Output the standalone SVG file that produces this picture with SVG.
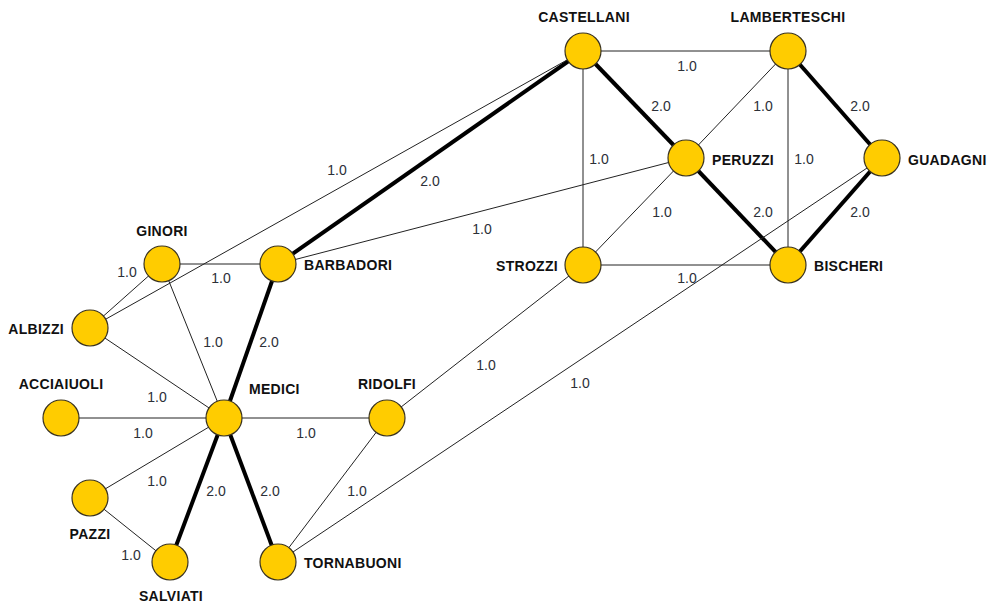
<svg xmlns="http://www.w3.org/2000/svg" width="989" height="608" viewBox="0 0 989 608">
  <style>
    .e1 { stroke: #222; stroke-width: 1; fill: none; }
    .e2 { stroke: #000; stroke-width: 4; fill: none; }
    .node circle { fill: #FFCC00; stroke: #3a3320; stroke-width: 1.2; }
    .name { font-family: "Liberation Sans", Arial, sans-serif; font-size: 14px; font-weight: bold; fill: #111; letter-spacing: 0.3px; }
    .w { font-family: "Liberation Sans", Arial, sans-serif; font-size: 14px; fill: #2c3038; text-anchor: middle; }
  </style>
  <rect width="989" height="608" fill="#fff"/>

  <!-- connectors: thin = weight 1.0, bold = weight 2.0 -->
  <g id="edges">
    <line class="e1" x1="583" y1="51" x2="788" y2="51"/>
    <line class="e2" x1="583" y1="51" x2="686" y2="158"/>
    <line class="e1" x1="583" y1="51" x2="583" y2="265"/>
    <line class="e2" x1="583" y1="51" x2="278" y2="264"/>
    <line class="e1" x1="583" y1="51" x2="90" y2="328"/>
    <line class="e1" x1="788" y1="51" x2="686" y2="158"/>
    <line class="e2" x1="788" y1="51" x2="882" y2="158"/>
    <line class="e1" x1="788" y1="51" x2="788" y2="265"/>
    <line class="e1" x1="686" y1="158" x2="583" y2="265"/>
    <line class="e2" x1="686" y1="158" x2="788" y2="265"/>
    <line class="e1" x1="686" y1="158" x2="278" y2="264"/>
    <line class="e2" x1="882" y1="158" x2="788" y2="265"/>
    <line class="e1" x1="882" y1="158" x2="278" y2="562"/>
    <line class="e1" x1="583" y1="265" x2="788" y2="265"/>
    <line class="e1" x1="583" y1="265" x2="387" y2="418"/>
    <line class="e1" x1="162" y1="264" x2="90" y2="328"/>
    <line class="e1" x1="162" y1="264" x2="278" y2="264"/>
    <line class="e1" x1="162" y1="264" x2="224" y2="418"/>
    <line class="e2" x1="278" y1="264" x2="224" y2="418"/>
    <line class="e1" x1="90" y1="328" x2="224" y2="418"/>
    <line class="e1" x1="61" y1="418" x2="224" y2="418"/>
    <line class="e1" x1="224" y1="418" x2="387" y2="418"/>
    <line class="e1" x1="224" y1="418" x2="90" y2="498"/>
    <line class="e2" x1="224" y1="418" x2="170" y2="562"/>
    <line class="e2" x1="224" y1="418" x2="278" y2="562"/>
    <line class="e1" x1="387" y1="418" x2="278" y2="562"/>
    <line class="e1" x1="90" y1="498" x2="170" y2="562"/>
  </g>

  <!-- edge weights -->
  <g id="weights">
    <text class="w" x="687" y="71">1.0</text>
    <text class="w" x="661" y="111">2.0</text>
    <text class="w" x="763" y="111">1.0</text>
    <text class="w" x="860" y="111">2.0</text>
    <text class="w" x="599" y="164">1.0</text>
    <text class="w" x="804" y="164">1.0</text>
    <text class="w" x="662" y="217">1.0</text>
    <text class="w" x="763" y="217">2.0</text>
    <text class="w" x="860" y="217">2.0</text>
    <text class="w" x="687" y="283">1.0</text>
    <text class="w" x="337" y="175">1.0</text>
    <text class="w" x="430" y="186">2.0</text>
    <text class="w" x="482" y="234">1.0</text>
    <text class="w" x="127" y="277">1.0</text>
    <text class="w" x="221" y="283">1.0</text>
    <text class="w" x="213" y="347">1.0</text>
    <text class="w" x="269" y="347">2.0</text>
    <text class="w" x="157" y="402">1.0</text>
    <text class="w" x="143" y="438">1.0</text>
    <text class="w" x="306" y="438">1.0</text>
    <text class="w" x="157" y="486">1.0</text>
    <text class="w" x="216" y="496">2.0</text>
    <text class="w" x="270" y="496">2.0</text>
    <text class="w" x="357" y="496">1.0</text>
    <text class="w" x="131" y="560">1.0</text>
    <text class="w" x="486" y="370">1.0</text>
    <text class="w" x="580" y="388">1.0</text>
  </g>

  <!-- family nodes -->
  <g id="castellani" class="node"><circle cx="583" cy="51" r="18"/><text class="name" x="584" y="22" text-anchor="middle">CASTELLANI</text></g>
  <g id="lamberteschi" class="node"><circle cx="788" cy="51" r="18"/><text class="name" x="788" y="22" text-anchor="middle">LAMBERTESCHI</text></g>
  <g id="peruzzi" class="node"><circle cx="686" cy="158" r="18"/><text class="name" x="712" y="165">PERUZZI</text></g>
  <g id="guadagni" class="node"><circle cx="882" cy="158" r="18"/><text class="name" x="908" y="165">GUADAGNI</text></g>
  <g id="strozzi" class="node"><circle cx="583" cy="265" r="18"/><text class="name" x="558" y="271" text-anchor="end">STROZZI</text></g>
  <g id="bischeri" class="node"><circle cx="788" cy="265" r="18"/><text class="name" x="814" y="271">BISCHERI</text></g>
  <g id="ginori" class="node"><circle cx="162" cy="264" r="18"/><text class="name" x="162" y="236" text-anchor="middle">GINORI</text></g>
  <g id="barbadori" class="node"><circle cx="278" cy="264" r="18"/><text class="name" x="304" y="270">BARBADORI</text></g>
  <g id="albizzi" class="node"><circle cx="90" cy="328" r="18"/><text class="name" x="64" y="334" text-anchor="end">ALBIZZI</text></g>
  <g id="acciaiuoli" class="node"><circle cx="61" cy="418" r="18"/><text class="name" x="61" y="389" text-anchor="middle">ACCIAIUOLI</text></g>
  <g id="medici" class="node"><circle cx="224" cy="418" r="18"/><text class="name" x="249" y="394">MEDICI</text></g>
  <g id="ridolfi" class="node"><circle cx="387" cy="418" r="18"/><text class="name" x="387" y="389" text-anchor="middle">RIDOLFI</text></g>
  <g id="pazzi" class="node"><circle cx="90" cy="498" r="18"/><text class="name" x="90" y="539" text-anchor="middle">PAZZI</text></g>
  <g id="salviati" class="node"><circle cx="170" cy="562" r="18"/><text class="name" x="171" y="601" text-anchor="middle">SALVIATI</text></g>
  <g id="tornabuoni" class="node"><circle cx="278" cy="562" r="18"/><text class="name" x="304" y="568">TORNABUONI</text></g>
</svg>
